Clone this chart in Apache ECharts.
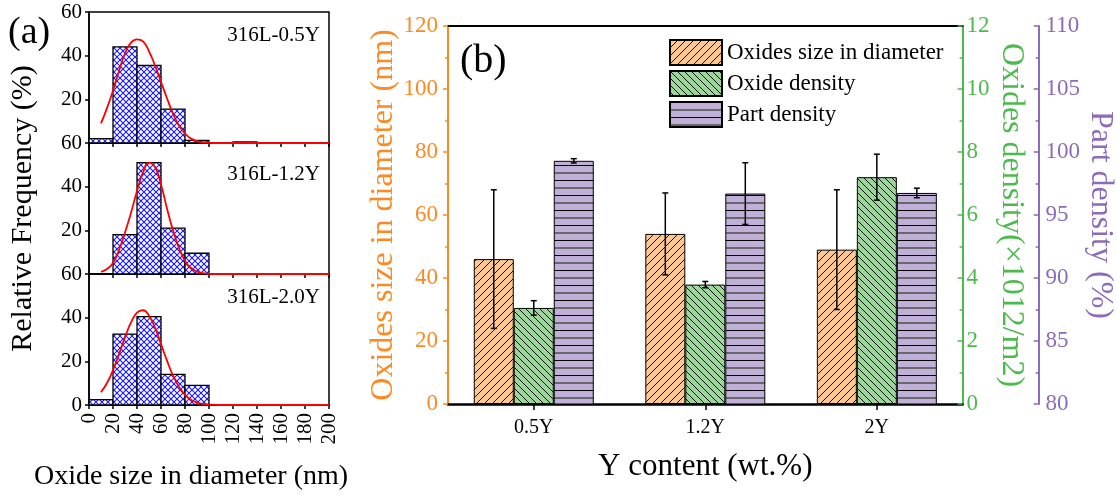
<!DOCTYPE html>
<html>
<head>
<meta charset="utf-8">
<script src="https://cdn.jsdelivr.net/npm/echarts@6/dist/echarts.min.js"></script>
<style>
html,body{margin:0;padding:0;background:#fff;}
#main{width:1117px;height:495px;}
</style>
</head>
<body>
<div id="main"></div>
<script>
// ---------- Panel (a): histogram data ----------
const binStarts = [0, 20, 40, 60, 80, 100, 120, 140, 160, 180];
const binWidth = 20;
const freq05 = [2, 44, 35.5, 15.5, 1.2, 0, 0.5, 0, 0, 0];
const freq12 = [0, 18, 51, 21, 9.5, 0, 0, 0, 0, 0];
const freq20 = [2.5, 32.5, 40.5, 14, 9, 0, 0, 0, 0, 0];
const sampleNames = ['316L-0.5Y', '316L-1.2Y', '316L-2.0Y'];
// fitted curves
const fitX  = [10, 15, 20, 25, 30, 35, 40, 45, 50, 55, 60, 65, 70, 75, 80, 85, 90, 95, 100, 110, 120, 130, 140, 150, 160, 170, 180, 190, 200];
const fit05 = [9, 16, 24, 33, 41, 46, 47.5, 46.5, 42, 35.5, 28, 20.5, 13.5, 8, 4.3, 2, 0.9, 0.35, 0.1, 0, 0, 0, 0, 0, 0, 0, 0, 0, 0];
const fit12 = [1, 2.3, 5, 11, 19, 28, 38, 46.5, 51, 49, 41, 30, 20, 12, 6, 2.8, 1.1, 0.4, 0.1, 0, 0, 0, 0, 0, 0, 0, 0, 0, 0];
const fit20 = [5.9, 10.1, 16, 23.3, 31, 37.8, 42.3, 43.4, 40.9, 35.3, 27.9, 20.3, 13.5, 8.3, 4.6, 2.4, 1.1, 0.5, 0.2, 0, 0, 0, 0, 0, 0, 0, 0, 0, 0];

// ---------- Panel (b): bar data ----------
const categories = ['0.5Y', '1.2Y', '2Y'];
const sizeMean = [46, 54, 49];
const sizeErr  = [22, 13, 19];
const oxDensMean = [3.05, 3.79, 7.2];
const oxDensErr  = [0.23, 0.1, 0.73];
const partDensMean = [99.3, 96.7, 96.75];
const partDensErr  = [0.17, 2.45, 0.38];
const seriesNames = ['Oxides size in diameter', 'Oxide density', 'Part density'];

// ---------- styles ----------
const FONT = "'Liberation Serif','Times New Roman','DejaVu Serif',serif";
const ORANGE = '#FB8A22';
const GREEN = '#4DBA4D';
const PURPLE = '#8C6BB8';

function makePattern(w, h, bg, draw) {
  const c = document.createElement('canvas');
  c.width = w; c.height = h;
  const g = c.getContext('2d');
  if (bg) { g.fillStyle = bg; g.fillRect(0, 0, w, h); }
  draw(g, w, h);
  return { type: 'pattern', image: c, repeat: 'repeat' };
}
function diag(g, w, h, dir) {
  g.beginPath();
  for (let k = -1; k <= 1; k++) {
    if (dir === '/') { g.moveTo(k * w, h); g.lineTo(k * w + w, 0); }
    else { g.moveTo(k * w, 0); g.lineTo(k * w + w, h); }
  }
  g.stroke();
}
const crossPat = makePattern(6, 6, '#ffffff', (g, w, h) => {
  g.strokeStyle = '#1a1aff'; g.lineWidth = 1.1;
  diag(g, w, h, '/'); diag(g, w, h, '\\');
});
const orangePat = makePattern(8, 8, '#FCC892', (g, w, h) => {
  g.strokeStyle = '#111'; g.lineWidth = 1; diag(g, w, h, '/');
});
const greenPat = makePattern(7, 7, '#9CD69B', (g, w, h) => {
  g.strokeStyle = '#111'; g.lineWidth = 1; diag(g, w, h, '\\');
});
const purplePat = makePattern(4, 15, '#C0B0D8', (g, w, h) => {
  g.strokeStyle = '#000'; g.lineWidth = 1;
  g.beginPath(); g.moveTo(0, 0.5); g.lineTo(w, 0.5); g.stroke();
  g.strokeStyle = '#555'; g.lineWidth = 1.6;
  g.beginPath(); g.moveTo(0, 8); g.lineTo(w, 8); g.stroke();
});

// ---------- grids ----------
const gridA = [
  { left: 89, top: 12, width: 240, height: 131 },
  { left: 89, top: 143, width: 240, height: 131 },
  { left: 89, top: 274, width: 240, height: 131 }
].map(g => Object.assign(g, { show: true, borderColor: '#000', borderWidth: 1.5, backgroundColor: 'transparent' }));
const gridB = { left: 448, top: 26, width: 521, height: 378 };

const freqs = [freq05, freq12, freq20];
const fits = [fit05, fit12, fit20];

const xAxes = [];
const yAxes = [];
for (let i = 0; i < 3; i++) {
  xAxes.push({
    type: 'value', gridIndex: i, min: 0, max: 200, interval: 20,
    axisLine: { show: true, onZero: false, lineStyle: { color: '#000', width: 1.5 } },
    axisTick: { show: true, length: 4, lineStyle: { color: '#000', width: 1.5 } },
    splitLine: { show: false },
    axisLabel: i === 2 ? { show: true, rotate: 90, margin: 8, fontSize: 21, color: '#000', fontFamily: FONT } : { show: false },
    name: i === 2 ? 'Oxide size in diameter (nm)' : '',
    nameLocation: 'middle', nameGap: 58,
    nameTextStyle: { fontSize: 28, color: '#000', fontFamily: FONT, padding: [0, 36, 0, 0] }
  });
  yAxes.push({
    type: 'value', gridIndex: i, min: 0, max: 60, interval: 20,
    axisLine: { show: true, lineStyle: { color: '#000', width: 1.5 } },
    axisTick: { show: true, length: 4, lineStyle: { color: '#000', width: 1.5 } },
    splitLine: { show: false },
    axisLabel: {
      margin: 7, fontSize: 21, color: '#000', fontFamily: FONT,
      formatter: (v) => (i < 2 && v === 0) ? '' : String(v)
    },
    name: i === 1 ? 'Relative Frequency (%)' : '',
    nameLocation: 'middle', nameGap: 51,
    nameTextStyle: { fontSize: 30, color: '#000', fontFamily: FONT }
  });
}
// panel (b) x axis (bottom)
xAxes.push({
  type: 'category', gridIndex: 3, data: categories, boundaryGap: true,
  axisLine: { show: true, onZero: false, lineStyle: { color: '#000', width: 2.5 } },
  axisTick: { show: true, alignWithLabel: true, length: 6, lineStyle: { color: '#000', width: 1.5 } },
  axisLabel: { margin: 14, fontSize: 20, color: '#000', fontFamily: FONT },
  splitLine: { show: false },
  name: 'Y content (wt.%)', nameLocation: 'middle', nameGap: 47,
  nameTextStyle: { fontSize: 31, color: '#000', fontFamily: FONT }
});
// panel (b) top border axis
xAxes.push({
  type: 'category', gridIndex: 3, position: 'top', data: categories,
  axisLine: { show: true, onZero: false, lineStyle: { color: '#000', width: 2 } },
  axisTick: { show: false }, axisLabel: { show: false }, splitLine: { show: false }
});
// panel (b) y axes
yAxes.push({
  type: 'value', gridIndex: 3, position: 'left', min: 0, max: 120, interval: 20,
  axisLine: { show: true, onZero: false, lineStyle: { color: ORANGE, width: 2 } },
  axisTick: { show: true, length: 5, lineStyle: { color: ORANGE, width: 1.5 } },
  minorTick: { show: true, splitNumber: 2, length: 3, lineStyle: { color: ORANGE, width: 1.5 } },
  splitLine: { show: false },
  axisLabel: { margin: 10, fontSize: 23, color: ORANGE, fontFamily: FONT },
  name: 'Oxides size in diameter (nm)', nameLocation: 'middle', nameGap: 47,
  nameTextStyle: { fontSize: 32, color: ORANGE, fontFamily: FONT }
});
yAxes.push({
  type: 'value', gridIndex: 3, position: 'right', min: 0, max: 12, interval: 2,
  axisLine: { show: true, onZero: false, lineStyle: { color: GREEN, width: 2 } },
  axisTick: { show: true, inside: true, length: 5, lineStyle: { color: GREEN, width: 1.5 } },
  minorTick: { show: true, splitNumber: 2, length: 3, lineStyle: { color: GREEN, width: 1.5 } },
  splitLine: { show: false },
  axisLabel: { margin: 4, fontSize: 23, color: GREEN, fontFamily: FONT },
  name: 'Oxides density(\u00d71012/m2)', nameLocation: 'middle', nameGap: 33, nameRotate: -90,
  nameTextStyle: { fontSize: 32, color: GREEN, fontFamily: FONT }
});
yAxes.push({
  type: 'value', gridIndex: 3, position: 'right', offset: 76, min: 80, max: 110, interval: 5,
  axisLine: { show: true, onZero: false, lineStyle: { color: PURPLE, width: 2 } },
  axisTick: { show: true, inside: true, length: 5, lineStyle: { color: PURPLE, width: 1.5 } },
  minorTick: { show: true, splitNumber: 2, length: 3, lineStyle: { color: PURPLE, width: 1.5 } },
  splitLine: { show: false },
  axisLabel: { margin: 7, fontSize: 23, color: PURPLE, fontFamily: FONT },
  name: 'Part density (%)', nameLocation: 'middle', nameGap: 42, nameRotate: -90,
  nameTextStyle: { fontSize: 32, color: PURPLE, fontFamily: FONT }
});

const series = [];
for (let i = 0; i < 3; i++) {
  series.push({
    type: 'custom', xAxisIndex: i, yAxisIndex: i, z: 2,
    data: binStarts.map((b, k) => [b, b + binWidth, freqs[i][k]]),
    renderItem: function (params, api) {
      const v = api.value(2);
      if (!v) return null;
      const p0 = api.coord([api.value(0), v]);
      const p1 = api.coord([api.value(1), 0]);
      return {
        type: 'rect',
        shape: { x: p0[0], y: p0[1], width: p1[0] - p0[0], height: p1[1] - p0[1] },
        style: { fill: crossPat, stroke: '#000', lineWidth: 1.3 }
      };
    }
  });
  series.push({
    type: 'line', xAxisIndex: i, yAxisIndex: i, z: 3,
    data: fitX.map((x, k) => [x, fits[i][k]]),
    smooth: true, showSymbol: false, symbol: 'none',
    lineStyle: { color: '#FF0000', width: 1.8 }
  });
}
const pats = [orangePat, greenPat, purplePat];
const means = [sizeMean, oxDensMean, partDensMean];
const errs = [sizeErr, oxDensErr, partDensErr];
const BAR_W = 40;
for (let s = 0; s < 3; s++) {
  series.push({
    name: seriesNames[s], type: 'bar', xAxisIndex: 3, yAxisIndex: 3 + s,
    barWidth: BAR_W, barGap: '0%', z: 2,
    itemStyle: { color: pats[s], borderColor: '#000', borderWidth: 1 },
    data: means[s]
  });
}
const offsets = [-BAR_W, 0, BAR_W];
for (let s = 0; s < 3; s++) {
  const off = offsets[s];
  series.push({
    type: 'custom', xAxisIndex: 3, yAxisIndex: 3 + s, z: 5,
    data: categories.map((c, k) => [k, means[s][k] - errs[s][k], means[s][k] + errs[s][k]]),
    renderItem: function (params, api) {
      const hi = api.coord([api.value(0), api.value(2)]);
      const lo = api.coord([api.value(0), api.value(1)]);
      const cx = hi[0] + off, w = 3;
      const st = { stroke: '#000', lineWidth: 1.5 };
      return {
        type: 'group', children: [
          { type: 'line', shape: { x1: cx, y1: hi[1], x2: cx, y2: lo[1] }, style: st },
          { type: 'line', shape: { x1: cx - w, y1: hi[1], x2: cx + w, y2: hi[1] }, style: st },
          { type: 'line', shape: { x1: cx - w, y1: lo[1], x2: cx + w, y2: lo[1] }, style: st }
        ]
      };
    }
  });
}

const chart = echarts.init(document.getElementById('main'), null, { renderer: 'canvas' });
chart.setOption({
  animation: false,
  backgroundColor: '#fff',
  textStyle: { fontFamily: FONT },
  grid: gridA.concat([gridB]),
  xAxis: xAxes,
  yAxis: yAxes,
  legend: {
    data: seriesNames, orient: 'vertical', left: 664, top: 34,
    itemWidth: 52, itemHeight: 25, itemGap: 4, icon: 'rect',
    textStyle: { fontSize: 23, color: '#000', fontFamily: FONT }
  },
  graphic: [
    { type: 'text', left: 8, top: 14, style: { text: '(a)', font: "38px " + FONT, fill: '#000' } },
    { type: 'text', left: 460, top: 41, style: { text: '(b)', font: "40px " + FONT, fill: '#000' } },
    { type: 'text', right: 1117 - 320, top: 25, style: { text: sampleNames[0], font: "21px " + FONT, fill: '#000' } },
    { type: 'text', right: 1117 - 320, top: 164, style: { text: sampleNames[1], font: "21px " + FONT, fill: '#000' } },
    { type: 'text', right: 1117 - 320, top: 287, style: { text: sampleNames[2], font: "21px " + FONT, fill: '#000' } }
  ],
  series: series
});
</script>
</body>
</html>
